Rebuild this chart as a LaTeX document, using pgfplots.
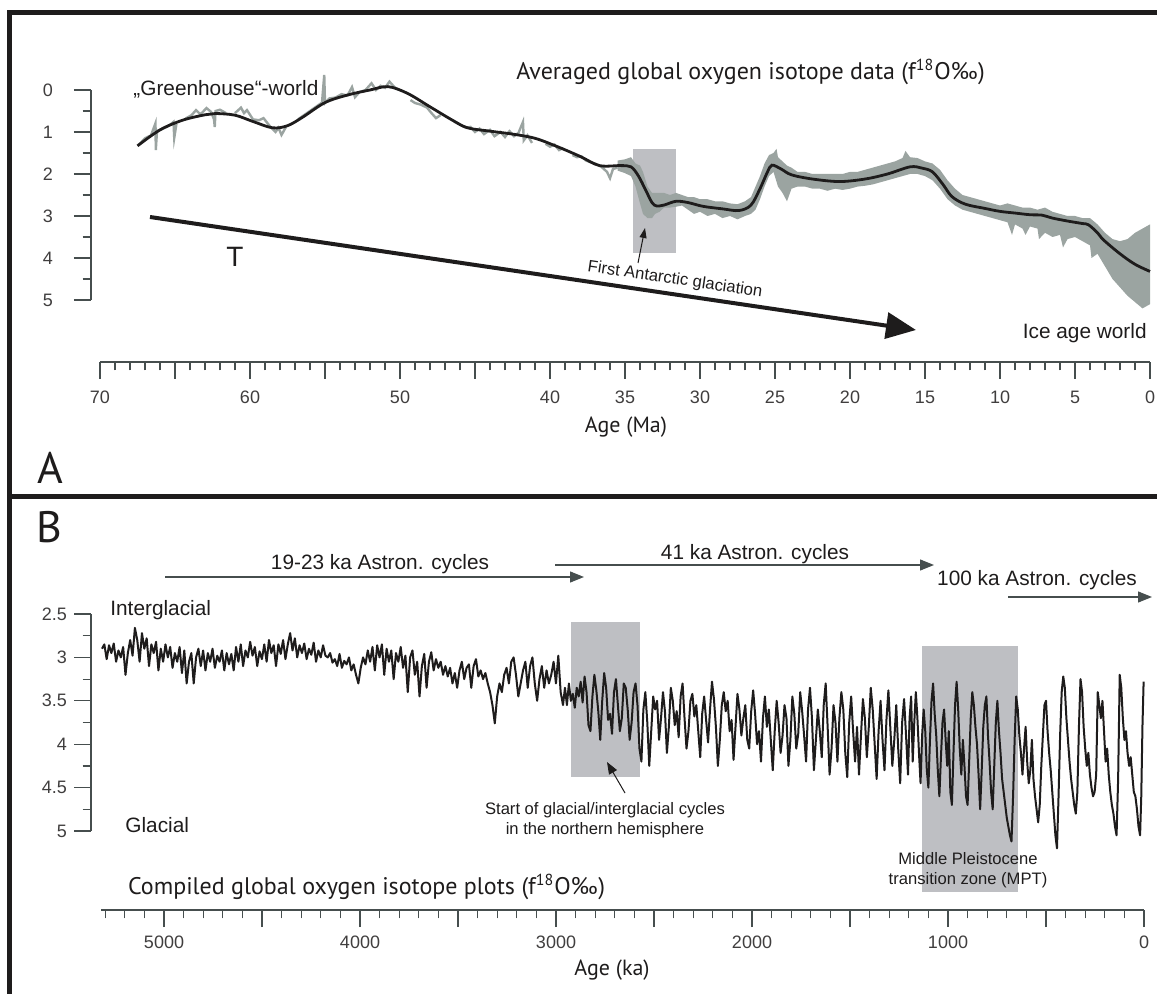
\documentclass[border=0pt]{standalone}
\usepackage{fontspec}
\setmainfont{Liberation Sans}
\newfontfamily\myr{PT Sans}
\usepackage{pgfplots}
\usepackage{pgfplotstable}
\pgfplotsset{compat=1.18}
\usetikzlibrary{arrows.meta}

\definecolor{boxgray}{RGB}{190,191,195}
\definecolor{dgray}{RGB}{155,164,161}
\definecolor{ink}{RGB}{30,28,28}
\definecolor{axc}{RGB}{70,78,78}

\pgfplotsset{
  refaxis/.style={scale only axis, clip=false,
    axis line style={axc, line width=0.6pt},
    tick style={axc, line width=0.6pt},
    major tick length=8.5pt, minor tick length=4.2pt,
    tick label style={font=\fontsize{9}{10}\selectfont, text=ink!85},
    /pgf/number format/assume math mode=true},
  fixlines/.style={xtick align=outside, ytick align=outside,
    x axis line style={-}, y axis line style={-}},
}

% panel A: smoothed curve (age in Ma, d18O)
\pgfplotstableread[row sep=\\]{
age v\\
67.5 1.33\\ 66.0 0.95\\ 64.5 0.72\\ 63.0 0.59\\ 62.3 0.56\\ 61.0 0.60\\ 59.8 0.75\\ 58.5 0.90\\
57.5 0.85\\ 56.5 0.65\\ 55.0 0.30\\ 53.5 0.12\\ 52.0 0.00\\ 50.8 -0.08\\ 49.5 0.08\\ 48.0 0.40\\
46.5 0.72\\ 45.5 0.90\\ 44.0 0.98\\ 42.5 1.05\\ 41.0 1.15\\ 39.5 1.35\\ 38.0 1.58\\ 36.7 1.80\\
35.3 1.80\\ 34.6 1.83\\ 34.1 2.05\\ 33.6 2.40\\ 33.2 2.68\\ 32.9 2.76\\ 32.4 2.74\\ 31.6 2.65\\
30.8 2.68\\ 29.8 2.77\\ 28.5 2.83\\ 27.4 2.87\\ 26.6 2.74\\ 26.0 2.35\\ 25.5 1.95\\ 25.2 1.79\\
24.6 1.88\\ 23.9 2.02\\ 22.5 2.12\\ 20.7 2.18\\ 19.0 2.12\\ 17.5 2.00\\ 16.0 1.83\\ 15.2 1.86\\
14.5 1.95\\ 13.8 2.25\\ 13.2 2.54\\ 12.3 2.72\\ 11.0 2.82\\ 10.0 2.89\\ 9.0 2.93\\ 8.0 2.97\\
7.2 2.98\\ 6.5 3.05\\ 5.5 3.12\\ 4.5 3.18\\ 4.1 3.21\\ 3.5 3.40\\ 3.1 3.57\\ 2.0 3.90\\
1.0 4.15\\ 0.0 4.32\\
}\acurve

% panel A: raw data band 35.5-0 Ma (upper edge, then lower edge)
\pgfplotstableread[row sep=\\]{
age v\\
35.5 1.68\\ 35.0 1.65\\ 34.6 1.60\\ 34.3 1.75\\ 34.0 1.80\\ 33.8 1.95\\ 33.5 2.30\\ 33.2 2.45\\
33.0 2.45\\ 32.7 2.45\\ 32.4 2.45\\ 32.0 2.50\\ 31.6 2.45\\ 31.2 2.50\\ 30.8 2.55\\ 30.4 2.55\\
30.0 2.60\\ 29.5 2.60\\ 29.0 2.65\\ 28.5 2.65\\ 28.0 2.70\\ 27.5 2.72\\ 27.0 2.65\\ 26.6 2.55\\
26.3 2.30\\ 26.0 2.05\\ 25.7 1.75\\ 25.4 1.55\\ 25.1 1.50\\ 24.9 1.40\\ 24.8 1.60\\ 24.5 1.70\\
24.2 1.80\\ 23.9 1.85\\ 23.5 1.95\\ 23.0 1.95\\ 22.5 2.00\\ 22.0 2.00\\ 21.5 2.00\\ 21.0 2.00\\
20.5 2.00\\ 20.0 1.95\\ 19.5 1.95\\ 19.0 1.90\\ 18.5 1.85\\ 18.0 1.80\\ 17.5 1.75\\ 17.0 1.70\\
16.5 1.62\\ 16.3 1.45\\ 16.0 1.60\\ 15.5 1.62\\ 15.0 1.70\\ 14.5 1.75\\ 14.0 1.90\\ 13.5 2.15\\
13.0 2.35\\ 12.5 2.50\\ 12.0 2.55\\ 11.5 2.60\\ 11.0 2.65\\ 10.5 2.70\\ 10.0 2.75\\ 9.5 2.70\\
9.0 2.75\\ 8.5 2.80\\ 8.0 2.80\\ 7.5 2.85\\ 7.0 2.80\\ 6.5 2.90\\ 6.0 2.95\\ 5.5 3.00\\
5.0 3.00\\ 4.5 3.05\\ 4.0 3.05\\ 3.5 3.20\\ 3.0 3.40\\ 2.5 3.55\\ 2.0 3.60\\ 1.5 3.55\\
1.0 3.40\\ 0.5 3.30\\ 0.0 3.20\\
0.0 5.10\\ 0.5 5.20\\ 1.0 5.05\\ 1.5 4.90\\ 2.0 4.70\\ 2.5 4.50\\ 3.0 4.20\\ 3.5 3.90\\
3.9 4.00\\ 4.0 3.70\\ 4.5 3.60\\ 5.0 3.50\\ 5.5 3.55\\ 5.8 3.75\\ 6.0 3.45\\ 6.5 3.50\\
7.0 3.40\\ 7.4 3.55\\ 7.5 3.30\\ 8.0 3.25\\ 8.3 3.45\\ 8.5 3.30\\ 9.0 3.20\\ 9.2 3.45\\
9.5 3.15\\ 10.0 3.10\\ 10.5 3.05\\ 11.0 3.00\\ 11.5 2.95\\ 12.0 2.90\\ 12.5 2.85\\ 13.0 2.75\\
13.5 2.60\\ 14.0 2.35\\ 14.5 2.15\\ 15.0 2.05\\ 15.5 2.00\\ 16.0 2.00\\ 16.5 2.05\\ 17.0 2.10\\
17.5 2.15\\ 18.0 2.20\\ 18.5 2.25\\ 19.0 2.28\\ 19.5 2.30\\ 20.0 2.35\\ 20.5 2.38\\ 21.0 2.35\\
21.5 2.40\\ 22.0 2.35\\ 22.5 2.35\\ 23.0 2.30\\ 23.5 2.30\\ 23.9 2.35\\ 24.2 2.65\\ 24.5 2.45\\
24.8 2.30\\ 25.1 1.95\\ 25.4 2.05\\ 25.7 2.30\\ 26.0 2.60\\ 26.3 2.85\\ 26.6 2.95\\ 27.0 3.00\\
27.5 3.08\\ 28.0 3.00\\ 28.5 3.05\\ 29.0 2.95\\ 29.5 3.00\\ 30.0 2.90\\ 30.4 2.95\\ 30.8 2.85\\
31.2 2.75\\ 31.6 2.78\\ 32.0 2.80\\ 32.4 2.80\\ 32.7 2.90\\ 33.0 2.95\\ 33.2 3.05\\ 33.5 3.05\\
33.8 2.95\\ 34.0 2.70\\ 34.3 2.30\\ 34.6 2.05\\ 35.0 1.98\\ 35.5 1.92\\
}\aband

% panel A: sparse raw data 67.5-35.5 Ma
\pgfplotstableread[row sep=\\]{
age v\\
67.4 1.30\\ 67.0 1.15\\ 66.6 1.08\\ 66.3 0.79\\ 66.28 1.43\\ 66.2 0.98\\ 65.8 0.92\\ 65.4 0.85\\
65.1 0.76\\ 65.05 1.14\\ 64.9 0.80\\ 64.6 nan\\ 64.3 0.68\\ 63.9 0.60\\ 63.6 0.48\\ 63.3 0.58\\
62.9 0.43\\ 62.6 0.52\\ 62.4 0.70\\ 62.35 0.88\\ 62.3 0.50\\ 62.0 0.47\\ 61.6 0.55\\ 61.3 nan\\
61.0 0.55\\ 60.6 0.42\\ 60.4 0.55\\ 60.2 0.48\\ 59.8 0.70\\ 59.4 0.72\\ 59.1 0.67\\ 58.7 0.85\\
58.3 1.00\\ 58.1 0.90\\ 57.9 1.07\\ 57.6 0.88\\ 57.2 nan\\ 56.8 0.70\\ 56.4 0.60\\ 56.0 0.50\\
55.6 0.40\\ 55.2 0.30\\ 55.05 -0.36\\ 55.0 0.31\\ 54.7 0.20\\ 54.3 0.18\\ 53.9 0.10\\ 53.5 0.13\\
53.2 -0.07\\ 53.0 0.17\\ 52.7 0.05\\ 52.3 0.00\\ 51.9 -0.16\\ 51.6 0.00\\ 51.3 -0.10\\ 51.0 -0.05\\
50.7 -0.20\\ 50.4 -0.08\\ 50.1 0.00\\ 49.7 nan\\ 49.3 0.24\\ 49.0 0.31\\ 48.6 0.35\\ 48.2 0.42\\
47.9 0.55\\ 47.6 0.67\\ 47.3 0.60\\ 46.9 nan\\ 46.4 0.75\\ 46.0 0.82\\ 45.6 0.90\\ 45.3 0.88\\
45.0 1.00\\ 44.7 0.92\\ 44.4 1.05\\ 44.0 0.95\\ 43.7 1.10\\ 43.3 1.00\\ 43.0 1.12\\ 42.7 0.98\\
42.4 1.10\\ 42.1 1.02\\ 41.8 0.76\\ 41.75 1.20\\ 41.5 1.08\\ 41.2 1.26\\ 40.8 nan\\ 40.3 1.28\\
40.0 1.35\\ 39.7 1.30\\ 39.4 1.43\\ 39.1 1.38\\ 38.8 nan\\ 38.5 1.55\\ 38.2 1.60\\ 37.9 1.58\\
37.6 1.68\\ 37.3 1.72\\ 37.0 1.75\\ 36.6 1.82\\ 36.2 1.95\\ 36.0 2.10\\ 35.8 1.88\\ 35.5 1.85\\
}\aearly

% panel B: compiled record (age in ka, d18O)
\pgfplotstableread[row sep=\\]{
age v\\
5316 2.90\\ 5304 2.85\\ 5292 3.02\\ 5280 2.86\\ 5268 2.95\\ 5256 2.84\\ 5244 3.05\\ 5232 2.92\\
5220 3.00\\ 5208 2.88\\ 5196 3.20\\ 5184 2.95\\ 5172 2.80\\ 5160 2.98\\ 5148 2.66\\ 5136 2.80\\
5124 3.05\\ 5112 2.72\\ 5100 2.90\\ 5088 2.78\\ 5076 3.10\\ 5064 2.85\\ 5052 2.95\\ 5040 2.82\\
5028 3.15\\ 5016 2.90\\ 5004 3.05\\ 4992 2.85\\ 4980 3.00\\ 4968 2.88\\ 4956 3.12\\ 4944 2.95\\
4932 3.05\\ 4920 2.88\\ 4908 3.18\\ 4896 2.92\\ 4884 3.30\\ 4872 3.05\\ 4860 2.95\\ 4848 3.30\\
4836 3.00\\ 4824 2.90\\ 4812 3.10\\ 4800 2.92\\ 4788 3.15\\ 4776 2.95\\ 4764 3.05\\ 4752 2.90\\
4740 3.12\\ 4728 2.98\\ 4716 3.05\\ 4704 2.92\\ 4692 3.15\\ 4680 2.95\\ 4668 3.08\\ 4656 2.96\\
4644 3.15\\ 4632 2.88\\ 4620 3.05\\ 4608 2.85\\ 4596 3.10\\ 4584 2.92\\ 4572 3.00\\ 4560 2.82\\
4548 2.98\\ 4536 2.88\\ 4524 3.10\\ 4512 2.93\\ 4500 3.02\\ 4488 2.85\\ 4476 3.05\\ 4464 2.80\\
4452 2.95\\ 4440 2.86\\ 4428 3.10\\ 4416 2.85\\ 4404 2.96\\ 4392 2.80\\ 4380 3.02\\ 4368 2.85\\
4356 2.72\\ 4344 2.92\\ 4332 2.78\\ 4320 3.00\\ 4308 2.86\\ 4296 2.95\\ 4284 2.84\\ 4272 3.02\\
4260 2.90\\ 4248 2.97\\ 4236 2.83\\ 4224 3.05\\ 4212 2.92\\ 4200 3.00\\ 4188 2.86\\ 4176 2.98\\
4164 3.00\\ 4152 2.95\\ 4140 3.06\\ 4128 3.02\\ 4116 3.10\\ 4104 2.96\\ 4092 3.12\\ 4080 3.04\\
4068 3.08\\ 4056 3.00\\ 4044 3.15\\ 4032 3.08\\ 4020 3.20\\ 4008 3.30\\ 3996 3.12\\ 3984 3.00\\
3972 3.08\\ 3960 2.92\\ 3948 3.05\\ 3936 2.88\\ 3924 3.15\\ 3912 2.86\\ 3900 3.00\\ 3888 2.85\\
3876 3.20\\ 3864 2.90\\ 3852 3.05\\ 3840 2.92\\ 3828 3.25\\ 3816 2.95\\ 3804 3.05\\ 3792 2.88\\
3780 3.12\\ 3768 2.98\\ 3756 3.40\\ 3744 3.00\\ 3732 2.92\\ 3720 3.20\\ 3708 3.05\\ 3696 3.45\\
3684 3.10\\ 3672 2.96\\ 3660 3.35\\ 3648 3.05\\ 3636 2.94\\ 3624 3.15\\ 3612 3.02\\ 3600 3.12\\
3588 3.05\\ 3576 3.20\\ 3564 3.10\\ 3552 3.22\\ 3540 3.12\\ 3528 3.30\\ 3516 3.18\\ 3504 3.35\\
3492 3.15\\ 3480 3.05\\ 3468 3.25\\ 3456 3.12\\ 3444 3.08\\ 3432 3.35\\ 3420 3.10\\ 3408 3.02\\
3396 3.22\\ 3384 3.15\\ 3372 3.25\\ 3360 3.18\\ 3348 3.30\\ 3336 3.40\\ 3324 3.55\\ 3312 3.76\\
3300 3.45\\ 3288 3.30\\ 3276 3.40\\ 3264 3.20\\ 3252 3.12\\ 3240 3.30\\ 3228 3.05\\ 3216 3.00\\
3204 3.20\\ 3192 3.45\\ 3180 3.30\\ 3168 3.15\\ 3156 3.05\\ 3144 3.35\\ 3132 3.10\\ 3120 3.00\\
3108 3.30\\ 3096 3.50\\ 3084 3.25\\ 3072 3.10\\ 3060 3.35\\ 3048 3.15\\ 3036 3.30\\ 3024 3.20\\
3012 3.05\\ 3000 3.30\\ 2988 2.98\\ 2976 3.40\\ 2964 3.55\\ 2954 3.35\\ 2944 3.55\\ 2934 3.30\\
2924 3.50\\ 2914 3.42\\ 2904 3.58\\ 2894 3.35\\ 2884 3.45\\ 2874 3.28\\ 2864 3.52\\ 2854 3.22\\
2844 3.40\\ 2834 3.78\\ 2824 3.85\\ 2814 3.45\\ 2804 3.20\\ 2794 3.38\\ 2784 3.62\\ 2774 3.95\\
2764 3.50\\ 2754 3.18\\ 2744 3.35\\ 2734 3.72\\ 2724 3.65\\ 2714 3.88\\ 2704 3.40\\ 2694 3.25\\
2684 3.55\\ 2674 3.85\\ 2664 3.70\\ 2654 3.30\\ 2644 3.35\\ 2634 3.60\\ 2624 3.95\\ 2614 3.75\\
2604 3.40\\ 2594 3.30\\ 2584 3.55\\ 2574 4.05\\ 2564 4.20\\ 2554 3.60\\ 2544 3.40\\ 2534 3.75\\
2524 4.25\\ 2514 3.85\\ 2504 3.45\\ 2494 3.60\\ 2484 3.50\\ 2474 3.95\\ 2464 3.70\\ 2454 3.40\\
2444 3.62\\ 2434 4.10\\ 2424 3.80\\ 2414 3.35\\ 2404 3.50\\ 2394 3.78\\ 2384 3.62\\ 2374 3.92\\
2364 3.45\\ 2354 3.30\\ 2344 3.70\\ 2334 4.05\\ 2324 3.85\\ 2314 3.50\\ 2304 3.42\\ 2294 3.68\\
2284 3.55\\ 2274 3.85\\ 2264 4.15\\ 2254 3.65\\ 2244 3.45\\ 2234 3.72\\ 2224 3.98\\ 2214 3.60\\
2204 3.28\\ 2194 3.48\\ 2184 3.80\\ 2174 4.25\\ 2164 3.95\\ 2154 3.55\\ 2144 3.40\\ 2134 3.62\\
2124 3.50\\ 2114 3.85\\ 2104 3.72\\ 2094 4.18\\ 2084 3.80\\ 2074 3.42\\ 2064 3.60\\ 2054 3.90\\
2044 3.70\\ 2034 3.55\\ 2024 3.95\\ 2014 4.05\\ 2004 3.62\\ 1994 3.38\\ 1984 3.65\\ 1974 4.00\\
1964 3.85\\ 1954 4.20\\ 1944 3.70\\ 1934 3.45\\ 1924 3.80\\ 1914 3.60\\ 1904 3.95\\ 1894 4.30\\
1884 3.85\\ 1874 3.50\\ 1864 3.75\\ 1854 4.10\\ 1844 3.90\\ 1834 3.55\\ 1824 3.70\\ 1814 4.25\\
1804 3.95\\ 1794 3.45\\ 1784 3.65\\ 1774 4.05\\ 1764 3.88\\ 1754 3.40\\ 1744 3.62\\ 1734 3.90\\
1724 4.20\\ 1714 3.60\\ 1704 3.35\\ 1694 3.70\\ 1684 4.30\\ 1674 3.95\\ 1664 3.60\\ 1654 3.85\\
1644 4.15\\ 1634 3.55\\ 1624 3.30\\ 1614 3.80\\ 1604 4.35\\ 1594 4.05\\ 1584 3.55\\ 1574 3.75\\
1564 4.20\\ 1554 3.70\\ 1544 3.40\\ 1534 3.60\\ 1524 4.10\\ 1514 4.38\\ 1504 3.75\\ 1494 3.45\\
1484 3.85\\ 1474 4.20\\ 1464 3.80\\ 1454 4.35\\ 1444 3.90\\ 1434 3.48\\ 1424 3.70\\ 1414 4.15\\
1404 3.80\\ 1394 3.35\\ 1384 3.60\\ 1374 4.00\\ 1364 4.40\\ 1354 3.85\\ 1344 3.50\\ 1334 3.95\\
1324 4.30\\ 1314 3.72\\ 1304 3.38\\ 1294 3.82\\ 1284 4.25\\ 1274 3.95\\ 1264 3.55\\ 1254 4.05\\
1244 4.45\\ 1234 3.75\\ 1224 3.48\\ 1214 3.90\\ 1204 4.35\\ 1196 3.70\\ 1188 3.45\\ 1180 4.20\\
1172 3.75\\ 1164 3.40\\ 1156 3.70\\ 1148 4.10\\ 1140 4.45\\ 1132 3.90\\ 1124 3.60\\ 1116 3.85\\
1108 4.30\\ 1100 4.50\\ 1092 3.95\\ 1084 3.50\\ 1076 3.30\\ 1068 3.65\\ 1060 3.90\\ 1052 4.30\\
1044 4.60\\ 1036 4.15\\ 1028 3.75\\ 1020 3.60\\ 1012 3.95\\ 1004 4.25\\ 996 3.85\\ 988 4.55\\
980 4.70\\ 972 4.10\\ 964 3.55\\ 956 3.28\\ 948 3.60\\ 940 4.05\\ 932 4.35\\ 924 3.95\\
916 4.25\\ 908 4.60\\ 900 4.70\\ 892 4.20\\ 884 3.70\\ 876 3.40\\ 868 3.55\\ 860 3.80\\
852 4.00\\ 844 4.35\\ 836 4.75\\ 828 4.30\\ 820 3.80\\ 812 3.55\\ 804 3.45\\ 796 3.90\\
788 4.20\\ 780 4.55\\ 772 4.75\\ 764 4.25\\ 756 3.75\\ 748 3.50\\ 740 3.85\\ 732 4.10\\
724 4.40\\ 716 4.55\\ 708 4.70\\ 700 4.85\\ 692 4.95\\ 684 5.05\\ 676 5.12\\ 668 4.60\\
660 3.95\\ 652 3.45\\ 644 3.60\\ 636 3.90\\ 628 4.10\\ 620 4.35\\ 612 4.05\\ 604 3.80\\
596 4.20\\ 588 4.45\\ 580 4.30\\ 572 3.95\\ 564 4.40\\ 556 4.60\\ 548 4.75\\ 540 4.90\\
532 4.70\\ 524 4.25\\ 516 3.90\\ 508 3.55\\ 500 3.50\\ 492 3.85\\ 484 4.10\\ 476 4.30\\
468 4.55\\ 460 4.80\\ 452 5.05\\ 444 5.20\\ 436 4.60\\ 428 3.90\\ 420 3.40\\ 412 3.22\\
404 3.35\\ 396 3.70\\ 388 3.95\\ 380 4.20\\ 372 4.40\\ 364 4.55\\ 356 4.70\\ 348 4.80\\
340 4.55\\ 332 3.80\\ 324 3.25\\ 316 3.40\\ 308 3.80\\ 300 4.05\\ 292 4.25\\ 284 4.10\\
276 4.35\\ 268 4.50\\ 260 4.60\\ 252 4.55\\ 244 4.35\\ 236 3.40\\ 228 3.55\\ 220 3.70\\
212 3.50\\ 204 3.85\\ 196 4.20\\ 188 4.05\\ 180 4.35\\ 172 4.55\\ 164 4.70\\ 156 4.80\\
148 4.95\\ 140 5.05\\ 132 4.40\\ 124 3.20\\ 116 3.35\\ 108 3.70\\ 100 3.95\\ 92 3.85\\
84 4.10\\ 76 4.25\\ 68 4.15\\ 60 4.35\\ 52 4.55\\ 44 4.60\\ 36 4.75\\ 28 4.95\\
20 5.05\\ 14 4.60\\ 8 3.80\\ 2 3.28\\
}\bdata

\newcommand\ann{\fontsize{10.4}{12}\selectfont}
\newcommand\sml{\fontsize{8.3}{10}\selectfont}

\begin{document}
\begin{tikzpicture}
\useasboundingbox (0,0) rectangle (578.5pt,-497pt);

% ---------- panel A ----------
\begin{axis}[refaxis, at={(45.5pt,-45pt)}, anchor=north west,
  width=529.5pt, height=105pt,
  xmin=-70.6, xmax=0, ymin=0, ymax=5, y dir=reverse,
  axis y line=left, axis x line=none, xtick=\empty, fixlines,
  yticklabel style={xshift=-7pt},
  ytick={0,1,2,3,4,5}, minor ytick={0.5,1.5,2.5,3.5,4.5}]
\fill[boxgray] (-34.5,1.40) rectangle (-31.6,3.88);
\addplot[fill=dgray, draw=none] table[x expr=-\thisrow{age}, y=v] {\aband};
\addplot[dgray, line width=1.2pt, unbounded coords=jump] table[x expr=-\thisrow{age}, y=v] {\aearly};
\addplot[ink, line width=1.4pt, smooth, tension=0.55] table[x expr=-\thisrow{age}, y=v] {\acurve};
\end{axis}

\begin{axis}[refaxis, at={(50pt,-181pt)}, anchor=south west,
  width=525pt, height=20pt,
  xmin=-70, xmax=0, ymin=0, ymax=1,
  axis x line=bottom, axis y line=none, ytick=\empty, fixlines,
  xticklabel style={yshift=-2.5pt},
  xtick={-70,-65,...,0}, xticklabels={70,,60,,50,,40,35,30,25,20,15,10,5,0},
  minor xtick={-69,-68,...,-1}]
\end{axis}

% ---------- panel B ----------
\begin{axis}[refaxis, at={(45.5pt,-307pt)}, anchor=north west,
  width=526.5pt, height=108.5pt,
  xmin=-5372, xmax=0, ymin=2.5, ymax=5, y dir=reverse,
  axis y line=left, axis x line=none, xtick=\empty, fixlines,
  ytick={2.5,3,3.5,4,4.5,5}, minor ytick={2.75,3.25,3.75,4.25,4.75}]
\fill[boxgray] (-2923,2.59) rectangle (-2571,4.38);
\fill[boxgray] (-1135,2.87) rectangle (-643,5.70);
\addplot[ink, line width=1pt, line join=round] table[x expr=-\thisrow{age}, y=v] {\bdata};
\end{axis}

\begin{axis}[refaxis, at={(50.65pt,-455pt)}, anchor=south west,
  width=521.35pt, height=20pt,
  xmin=-5320, xmax=0, ymin=0, ymax=1,
  axis x line=bottom, axis y line=none, ytick=\empty, fixlines,
  xticklabel style={yshift=-1pt},
  xtick={-5000,-4500,...,0}, xticklabels={5000,,4000,,3000,,2000,,1000,,0},
  minor xtick={-5300,-5200,...,-100}]
\end{axis}

% ---------- frame, labels, arrows (pixel grid of the reference) ----------
\begin{scope}[x=0.5pt, y=-0.5pt]
\draw[ink, line width=2.5pt] (9,994) -- (9,12.5) -- (1157,12.5);
\draw[ink, line width=2.5pt] (9,497) -- (1157,497);

\node[font=\myr\fontsize{22}{24}\selectfont, text=ink] at (50,468) {A};
\node[font=\myr\fontsize{22}{24}\selectfont, text=ink] at (49,527) {B};

\node[font=\myr\fontsize{12}{14}\selectfont, text=ink, anchor=east] at (992,72)
  {Averaged global oxygen isotope data (f\textsuperscript{18}O‰)};
\node[font=\ann, text=ink, anchor=west, inner sep=0] at (133,89) {„Greenhouse“-world};
\node[font=\fontsize{14}{16}\selectfont, text=ink] at (235,257) {T};
\node[font=\ann, text=ink, anchor=east, inner sep=0] at (1147,333) {Ice age world};
\node[font=\sml, text=ink, rotate=-8.5] at (675,280) {First Antarctic glaciation};
\draw[ink, line width=0.5pt, -{Triangle[length=5pt,width=3.5pt]}] (638,263) -- (645,228);
\draw[ink, line width=2pt, -{Triangle[length=15pt,width=13pt]}] (150,217) -- (916,330);
\node[font=\myr\fontsize{11}{13}\selectfont, text=ink] at (626,427) {Age (Ma)};

\node[font=\ann, text=ink] at (380,564) {19-23 ka Astron. cycles};
\draw[axc, line width=0.6pt, -{Triangle[length=7pt,width=5.5pt]}] (165,577) -- (584,577);
\node[font=\ann, text=ink] at (755,554) {41 ka Astron. cycles};
\draw[axc, line width=0.6pt, -{Triangle[length=7pt,width=5.5pt]}] (555,565) -- (934,565);
\node[font=\ann, text=ink] at (1037,580) {100 ka Astron. cycles};
\draw[axc, line width=0.6pt, -{Triangle[length=7pt,width=5.5pt]}] (1008,597) -- (1152,597);

\node[font=\ann, text=ink, anchor=west, inner sep=0] at (110,610) {Interglacial};
\node[font=\ann, text=ink, anchor=west, inner sep=0] at (125,825) {Glacial};
\node[font=\sml, text=ink, align=center] at (605,820)
  {Start of glacial/interglacial cycles\\in the northern hemisphere};
\draw[ink, line width=0.5pt, -{Triangle[length=6pt,width=4.5pt]}] (625,793) -- (607,762);
\node[font=\sml, text=ink, align=center] at (968,870)
  {Middle Pleistocene\\transition zone (MPT)};
\node[font=\myr\fontsize{12}{14}\selectfont, text=ink, anchor=west] at (121,887)
  {Compiled global oxygen isotope plots (f\textsuperscript{18}O‰)};
\node[font=\myr\fontsize{11}{13}\selectfont, text=ink] at (612,970) {Age (ka)};
\end{scope}
\end{tikzpicture}
\end{document}
